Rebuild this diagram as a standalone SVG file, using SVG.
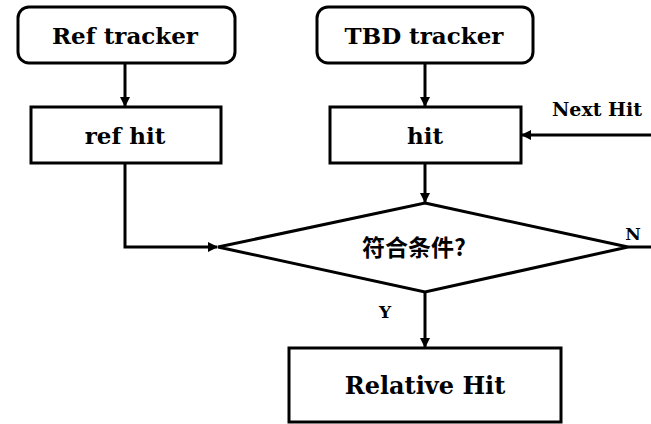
<svg xmlns="http://www.w3.org/2000/svg" width="651" height="424" viewBox="0 0 651 424">
<style>
.box{fill:#fff;stroke:#000;stroke-width:3}
.t{font-family:"DejaVu Serif","Liberation Serif",serif;font-weight:bold;fill:#000;text-anchor:middle}
.c{fill:none;stroke:#000;stroke-width:3}
.cjk{font-family:"Noto Sans CJK SC","Noto Sans",sans-serif;font-weight:bold;fill:#000;text-anchor:middle}
</style>
<defs>
<marker id="ah" markerWidth="10" markerHeight="10" refX="9" refY="5" orient="auto" markerUnits="userSpaceOnUse">
<path d="M0,0 L10,5 L0,10 Z" fill="#000"/>
</marker>
</defs>
<rect width="651" height="424" fill="#fff"/>
<g id="connectors">
<line class="c" x1="125" y1="63" x2="125" y2="106" marker-end="url(#ah)"/>
<line class="c" x1="425" y1="63" x2="425" y2="106" marker-end="url(#ah)"/>
<line class="c" x1="651" y1="135" x2="522" y2="135" marker-end="url(#ah)"/>
<line class="c" x1="425" y1="163" x2="425" y2="202" marker-end="url(#ah)"/>
<polyline class="c" points="125,163 125,247 217,247" marker-end="url(#ah)"/>
<line class="c" x1="628" y1="247" x2="651" y2="247"/>
<line class="c" x1="425" y1="292" x2="425" y2="347" marker-end="url(#ah)"/>
<text class="t" x="597" y="116" font-size="19">Next Hit</text>
<text class="t" x="633" y="240" font-size="17">N</text>
<text class="t" x="385" y="318" font-size="17">Y</text>
</g>
<g id="ref-tracker">
<rect class="box" x="18" y="7" width="217" height="56" rx="11"/>
<text class="t" x="125" y="44" font-size="23">Ref tracker</text>
</g>
<g id="tbd-tracker">
<rect class="box" x="317" y="7" width="216" height="56" rx="11"/>
<text class="t" x="424" y="44" font-size="23">TBD tracker</text>
</g>
<g id="ref-hit">
<rect class="box" x="31" y="107" width="190" height="56"/>
<text class="t" x="125" y="144" font-size="23">ref hit</text>
</g>
<g id="hit">
<rect class="box" x="330" y="107" width="191" height="56"/>
<text class="t" x="425" y="144" font-size="23">hit</text>
</g>
<g id="condition">
<polygon class="box" points="425,203 628,247 425,292 218,247"/>
<text class="cjk" x="414" y="256" font-size="23">符合条件?</text>
</g>
<g id="relative-hit">
<rect class="box" x="289" y="348" width="272" height="74"/>
<text class="t" x="425" y="394" font-size="24">Relative Hit</text>
</g>
</svg>
